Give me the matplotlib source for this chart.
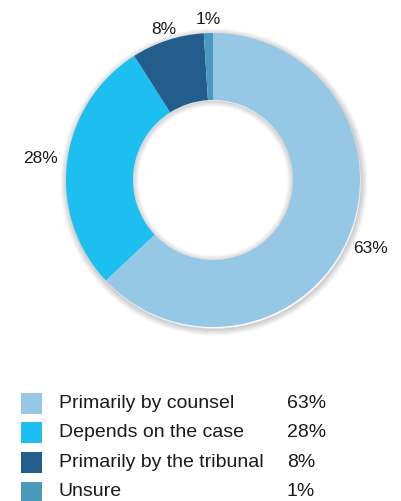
import numpy as np
import matplotlib.pyplot as plt
from matplotlib.patches import Rectangle, Circle

plt.rcParams['font.family'] = ['Liberation Sans', 'DejaVu Sans']

# --- data ---
categories = ['Primarily by counsel', 'Depends on the case',
              'Primarily by the tribunal', 'Unsure']
shares = [63, 28, 8, 1]
colors = ['#96c8e5', '#1dbff0', '#235d8c', '#4a9abe']

W, H = 401, 501
fig = plt.figure(figsize=(W / 100, H / 100), dpi=100)
ax = fig.add_axes([0, 0, 1, 1])

cx, cy = 213, H - 180
r_out, r_in = 147, 80

# faint shadow around the ring (under the wedges)
for k in range(7):
    ax.add_patch(Circle((cx + 1, cy - 2), r_out + k, facecolor='none',
                        edgecolor='#000000', lw=1.2, alpha=0.018 * (7 - k), zorder=0))
for k in range(6):
    ax.add_patch(Circle((cx, cy - 1), r_in - k, facecolor='none',
                        edgecolor='#000000', lw=1.2, alpha=0.018 * (6 - k), zorder=0))

wedges, _ = ax.pie(shares, colors=colors, startangle=90, counterclock=False,
                   radius=r_out, center=(cx, cy),
                   wedgeprops=dict(width=r_out - r_in, edgecolor='none'))
for w in wedges:
    w.set_zorder(2)

# pie() resets the limits, so set the pixel frame afterwards
ax.set_xlim(0, W)
ax.set_ylim(0, H)
ax.set_aspect('equal')
ax.axis('off')

label_r = [172, 174, 158, 161]
for w, s, lr in zip(wedges, shares, label_r):
    mid = np.deg2rad((w.theta1 + w.theta2) / 2)
    ax.text(cx + lr * np.cos(mid), cy + lr * np.sin(mid), f'{s}%',
            ha='center', va='center', fontsize=12.5, color='#1a1a1a')

# --- legend ---
row_y = [H - 403.5, H - 432.5, H - 462.5, H - 492]
for y, c, name, s in zip(row_y, colors, categories, shares):
    ax.add_patch(Rectangle((21, y - 10.5), 21, 21, facecolor=c, edgecolor='none'))
    ax.text(59, y, name, ha='left', va='center', fontsize=14, color='#1a1a1a')
    ax.text(287, y, f'{s}%', ha='left', va='center', fontsize=14, color='#1a1a1a')

fig.savefig('out.png', dpi=100)
